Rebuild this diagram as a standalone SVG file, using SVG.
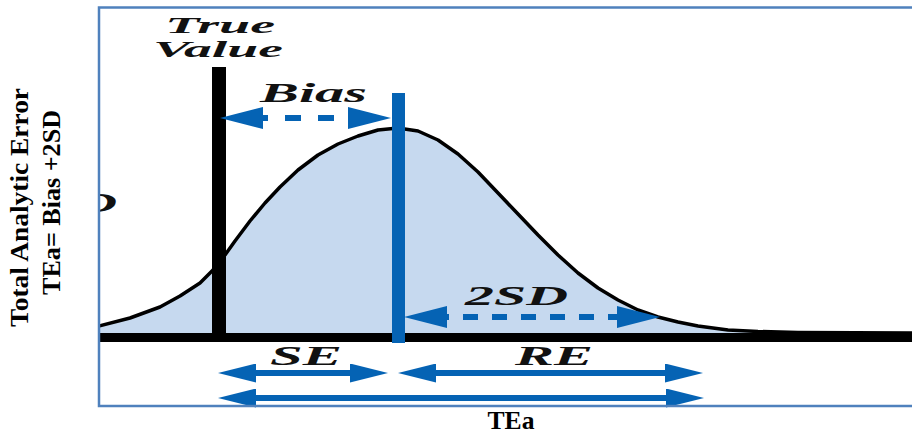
<svg xmlns="http://www.w3.org/2000/svg" width="912" height="435" viewBox="0 0 912 435">
  <style>
    .lbl{font-family:"Liberation Serif","Times New Roman",serif;font-weight:bold;font-style:italic;font-size:27px;fill:#111}
    .sm{font-size:24px}
    .axis{font-family:"Liberation Serif","Times New Roman",serif;font-weight:bold;font-size:26px;fill:#000}
    .arr{stroke:#0563b4;stroke-width:6;fill:none}
    .dash{stroke-dasharray:16 17}
    .dash2{stroke-dasharray:15 14}
  </style>
  <defs>
    <marker id="headD" markerUnits="userSpaceOnUse" viewBox="0 0 43 22" markerWidth="43" markerHeight="22" refX="0" refY="11" orient="auto-start-reverse">
      <path d="M0,0 L43,11 L0,22 Z" fill="#0563b4"/>
    </marker>
    <marker id="headS" markerUnits="userSpaceOnUse" viewBox="0 0 38 19" markerWidth="38" markerHeight="19" refX="0" refY="9.5" orient="auto-start-reverse">
      <path d="M0,0 L38,9.5 L0,19 Z" fill="#0563b4"/>
    </marker>
    <clipPath id="inside"><rect x="100" y="8" width="812" height="397"/></clipPath>
  </defs>
  <rect x="0" y="0" width="912" height="435" fill="#fff"/>

  <g id="curve" clip-path="url(#inside)">
    <path d="M99,326 L130,318 L160,307 L180,296 L200,283 L213,270 L225,255 L235,241 L250,221 L265,203 L280,187 L298,170 L318,155 L338,144 L358,136 L378,130 L398,128 L418,131 L438,140 L458,154 L478,172 L498,193 L518,214 L538,235 L558,255 L578,273 L598,288 L618,300 L638,310 L658,317 L678,322 L698,326 L728,330 L758,331.5 L798,332.5 L912,333 L912,337 L99,337 Z" fill="#c6d9ef"/>
    <path d="M99,326 L130,318 L160,307 L180,296 L200,283 L213,270 L225,255 L235,241 L250,221 L265,203 L280,187 L298,170 L318,155 L338,144 L358,136 L378,130 L398,128 L418,131 L438,140 L458,154 L478,172 L498,193 L518,214 L538,235 L558,255 L578,273 L598,288 L618,300 L638,310 L658,317 L678,322 L698,326 L728,330 L758,331.5 L798,332.5 L912,333" fill="none" stroke="#000" stroke-width="3.5" stroke-linejoin="round"/>
    <line id="baseline" x1="99" y1="337.5" x2="912" y2="337.5" stroke="#000" stroke-width="9"/>
    <text class="lbl" x="77" y="212" textLength="40" lengthAdjust="spacingAndGlyphs">D</text>
  </g>

  <g id="true-value">
    <rect x="212" y="67" width="14" height="272" fill="#000"/>
    <text class="lbl sm" x="165" y="33" textLength="110" lengthAdjust="spacingAndGlyphs">True</text>
    <text class="lbl sm" x="153" y="57" textLength="130" lengthAdjust="spacingAndGlyphs">Value</text>
  </g>

  <g id="mean-line">
    <rect x="392" y="93" width="13" height="250" fill="#0563b4"/>
  </g>

  <g id="connectors">
    <line class="arr dash" x1="263" y1="118" x2="348" y2="118" stroke-dashoffset="11" marker-start="url(#headD)" marker-end="url(#headD)"/>
    <line class="arr dash2" x1="447" y1="317" x2="617" y2="317" stroke-dashoffset="13" marker-start="url(#headD)" marker-end="url(#headD)"/>
    <line class="arr" x1="256" y1="373" x2="350" y2="373" marker-start="url(#headS)" marker-end="url(#headS)"/>
    <line class="arr" x1="436" y1="373" x2="665" y2="373" marker-start="url(#headS)" marker-end="url(#headS)"/>
    <line class="arr" x1="256" y1="398" x2="666" y2="398" marker-start="url(#headS)" marker-end="url(#headS)"/>
  </g>

  <g id="labels">
    <text class="lbl" x="260" y="102" textLength="107" lengthAdjust="spacingAndGlyphs">Bias</text>
    <text class="lbl" x="465" y="305" textLength="103" lengthAdjust="spacingAndGlyphs">2SD</text>
    <text class="lbl" x="270" y="365" textLength="72" lengthAdjust="spacingAndGlyphs">SE</text>
    <text class="lbl" x="515" y="365" textLength="78" lengthAdjust="spacingAndGlyphs">RE</text>
  </g>

  <g id="frame">
    <rect x="99" y="7.5" width="830" height="398.5" fill="none" stroke="#4f81bd" stroke-width="2.5"/>
  </g>

  <g id="axis-labels">
    <text class="axis" transform="translate(28,207.5) rotate(-90)" text-anchor="middle" textLength="239" lengthAdjust="spacingAndGlyphs">Total Analytic Error</text>
    <text class="axis" transform="translate(60,202.5) rotate(-90)" text-anchor="middle" textLength="185" lengthAdjust="spacingAndGlyphs">TEa= Bias +2SD</text>
    <text class="axis" x="511" y="429" text-anchor="middle" font-size="24" textLength="47" lengthAdjust="spacingAndGlyphs">TEa</text>
  </g>
</svg>
